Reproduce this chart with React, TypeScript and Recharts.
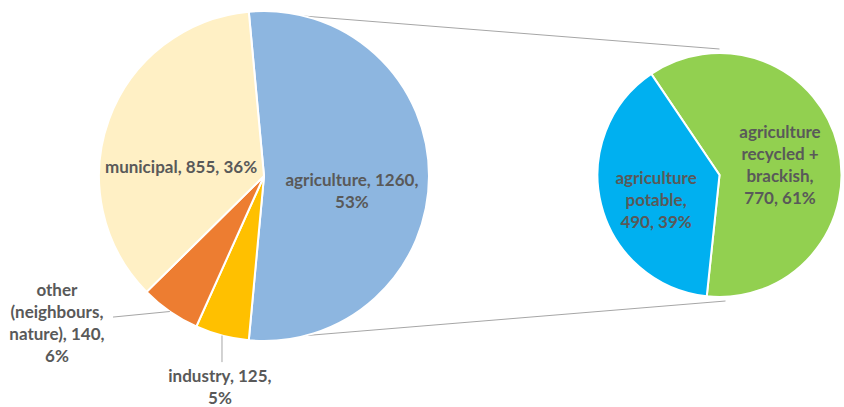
import React from 'react';
import { PieChart, Pie, Cell, Customized } from 'recharts';

// ---- data ----
const mainNames = ['agriculture', 'industry', 'other (neighbours, nature)', 'municipal'];
const mainValues = [1260, 125, 140, 855];
const mainColors = ['#8DB6E0', '#FFC000', '#ED7D31', '#FFF0C5'];

const splitNames = ['agriculture recycled + brackish', 'agriculture potable'];
const splitValues = [770, 490];
const splitColors = ['#92D050', '#00B0F0'];

// ---- layout ----
const W = 844;
const H = 407;
const LEFT = { cx: 264, cy: 176, r: 165 };
const RIGHT = { cx: 719.5, cy: 175, r: 122 };
const RIGHT_START = 124;
const LINE_H = 22;
const FONT = 'Lato, "Open Sans", sans-serif';
const FONT_SIZE = 17;
const TEXT_COLOR = '#595959';

// label block centers (in radius units from pie centre), wrap width (chars), optional leader end
const mainLabelLayout = [
  { dx: 0.533, dy: 0.088, wrap: 18 },
  { dx: -0.267, dy: 1.275, wrap: 14, leader: { dx: null, dy: 1.128 } },
  { dx: -1.255, dy: 0.89, wrap: 13, leader: { dx: -0.915, dy: 0.855 } },
  { dx: -0.503, dy: -0.06, wrap: 40 },
];
const splitLabelLayout = [
  { dx: 0.496, dy: -0.086, wrap: 11 },
  { dx: -0.52, dy: 0.197, wrap: 11 },
];

const mainData = mainNames.map((name, i) => ({ name, value: mainValues[i] }));
const splitData = splitNames.map((name, i) => ({ name, value: splitValues[i] }));
const mainTotal = mainValues.reduce((a, b) => a + b, 0);
const splitTotal = splitValues.reduce((a, b) => a + b, 0);
const mainStart = (180 * mainValues[0]) / mainTotal;

const RAD = Math.PI / 180;

function wrapText(text: string, max: number): string[] {
  const words = text.split(' ');
  const lines: string[] = [];
  let cur = '';
  for (const w of words) {
    if (!cur) cur = w;
    else if ((cur + ' ' + w).length <= max) cur = cur + ' ' + w;
    else {
      lines.push(cur);
      cur = w;
    }
  }
  if (cur) lines.push(cur);
  return lines;
}

function makeLabel(geo: { cx: number; cy: number; r: number }, layout: any[], names: string[], values: number[], total: number) {
  return (props: any) => {
    const i = props.index;
    const lay = layout[i];
    const pct = Math.round((values[i] / total) * 100);
    const text = `${names[i]}, ${values[i]}, ${pct}%`;
    const lines = wrapText(text, lay.wrap);
    const x = geo.cx + lay.dx * geo.r;
    const y = geo.cy + lay.dy * geo.r;
    let leader = null;
    if (lay.leader) {
      const mid = props.midAngle;
      const sx = geo.cx + geo.r * Math.cos(mid * RAD);
      const sy = geo.cy - geo.r * Math.sin(mid * RAD);
      const ex = lay.leader.dx === null ? sx : geo.cx + lay.leader.dx * geo.r;
      const ey = geo.cy + lay.leader.dy * geo.r;
      leader = <line x1={sx} y1={sy} x2={ex} y2={ey} stroke="#A6A6A6" strokeWidth={1} />;
    }
    return (
      <g key={`lbl-${i}`}>
        {leader}
        <text
          x={x}
          y={y}
          textAnchor="middle"
          fill={TEXT_COLOR}
          fontFamily={FONT}
          fontSize={FONT_SIZE}
          fontWeight="bold"
        >
          {lines.map((ln, k) => (
            <tspan key={k} x={x} y={y + (k - (lines.length - 1) / 2) * LINE_H} dominantBaseline="central">
              {ln}
            </tspan>
          ))}
        </text>
      </g>
    );
  };
}

const Connectors = () => {
  const a1 = mainStart * RAD;
  const a2 = -mainStart * RAD;
  const p1 = { x: LEFT.cx + LEFT.r * Math.cos(a1), y: LEFT.cy - LEFT.r * Math.sin(a1) };
  const p2 = { x: LEFT.cx + LEFT.r * Math.cos(a2), y: LEFT.cy - LEFT.r * Math.sin(a2) };
  const q1 = { x: RIGHT.cx, y: RIGHT.cy - RIGHT.r - 4 };
  const q2 = { x: RIGHT.cx + 6, y: RIGHT.cy + RIGHT.r + 4 };
  return (
    <g>
      <line x1={p1.x} y1={p1.y} x2={q1.x} y2={q1.y} stroke="#A6A6A6" strokeWidth={1} />
      <line x1={p2.x} y1={p2.y} x2={q2.x} y2={q2.y} stroke="#A6A6A6" strokeWidth={1} />
    </g>
  );
};

export default function App() {
  return (
    <div style={{ position: 'absolute', left: 0, top: 0, width: W, height: H, background: '#fff' }}>
      <PieChart width={W} height={H} margin={{ top: 0, right: 0, bottom: 0, left: 0 }}>
        <Customized component={Connectors} />
        <Pie
          data={mainData}
          dataKey="value"
          nameKey="name"
          cx={LEFT.cx}
          cy={LEFT.cy}
          outerRadius={LEFT.r}
          startAngle={mainStart}
          endAngle={mainStart - 360}
          stroke="#ffffff"
          strokeWidth={2}
          isAnimationActive={false}
          labelLine={false}
          label={makeLabel(LEFT, mainLabelLayout, mainNames, mainValues, mainTotal)}
        >
          {mainData.map((d, i) => (
            <Cell key={d.name} fill={mainColors[i]} />
          ))}
        </Pie>
        <Pie
          data={splitData}
          dataKey="value"
          nameKey="name"
          cx={RIGHT.cx}
          cy={RIGHT.cy}
          outerRadius={RIGHT.r}
          startAngle={RIGHT_START}
          endAngle={RIGHT_START - 360}
          stroke="#ffffff"
          strokeWidth={2}
          isAnimationActive={false}
          labelLine={false}
          label={makeLabel(RIGHT, splitLabelLayout, splitNames, splitValues, splitTotal)}
        >
          {splitData.map((d, i) => (
            <Cell key={d.name} fill={splitColors[i]} />
          ))}
        </Pie>
      </PieChart>
    </div>
  );
}
